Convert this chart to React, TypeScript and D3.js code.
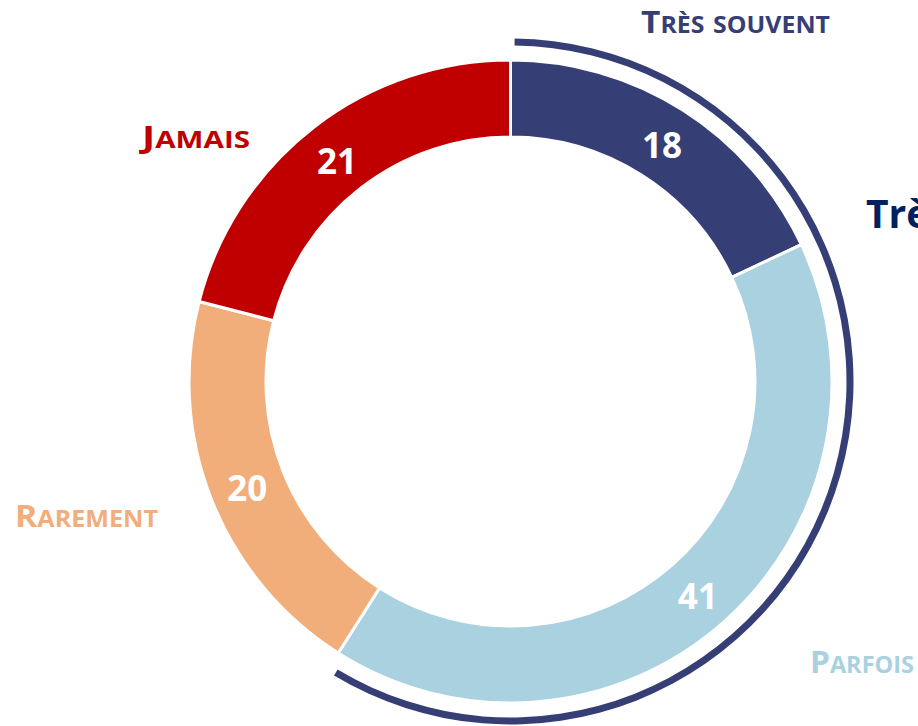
import React, {useEffect} from "react"
import * as d3 from "d3"

// chart data
const categories = ["Très souvent", "Parfois", "Rarement", "Jamais"]
const values = [18, 41, 20, 21]
const colors = ["#363E76", "#A9D1E0", "#F2AE7A", "#C00000"]

// bracket groups the first two categories
const bracketCategories = ["Très souvent", "Parfois"]
const bracketLabel = "Très"

const width = 918
const height = 726
const cx = 510.5
const cy = 381.5
const innerR = 244.5
const outerR = 321.5

// hand-placed category labels (left x, baseline, width)
const labelPlacement: {[k: string]: [number, number, number]} = {
    "Très souvent": [641, 33, 189],
    "Parfois": [810, 673, 104],
    "Rarement": [15, 527, 143],
    "Jamais": [142, 148, 108],
}

// render small caps: capitals big, lowercase as smaller capitals
const smallCaps = (label: string, big: number, small: number) => {
    const runs: {text: string, size: number}[] = []
    for (const ch of label) {
        const isUpper = ch !== ch.toLowerCase()
        const size = isUpper || ch === " " ? big : small
        const last = runs[runs.length - 1]
        if (last && last.size === size) last.text += ch.toUpperCase()
        else runs.push({text: ch.toUpperCase(), size})
    }
    return runs.map((r, i) => <tspan key={i} fontSize={r.size}>{r.text}</tspan>)
}

const App = () => {

    useEffect(() => {
        document.body.style.margin = "0"
    }, [])

    const pie = d3.pie<number>().sort(null).value(d => d)
    const arcs = pie(values)

    const arc = d3.arc<d3.PieArcDatum<number>>()
        .innerRadius(innerR)
        .outerRadius(outerR)

    const labelArc = d3.arc<d3.PieArcDatum<number>>()
        .innerRadius(283)
        .outerRadius(283)

    const grouped = arcs.filter((_, i) => bracketCategories.includes(categories[i]))
    const bracket = d3.arc()({
        innerRadius: 336,
        outerRadius: 343,
        startAngle: d3.min(grouped, d => d.startAngle)! + 0.012,
        endAngle: d3.max(grouped, d => d.endAngle)! - 0.025,
    })

    const font = "'Open Sans', 'DejaVu Sans', sans-serif"

    return (
        <svg width={width} height={height} viewBox={`0 0 ${width} ${height}`}
             style={{display: "block"}} fontFamily={font} fontWeight="bold">
            <rect width={width} height={height} fill="#ffffff"/>
            <g transform={`translate(${cx},${cy})`}>
                {arcs.map((a, i) => (
                    <path key={categories[i]} d={arc(a)!} fill={colors[i]}
                          stroke="#ffffff" strokeWidth={3}/>
                ))}
                <path d={bracket!} fill={colors[0]}/>
                {arcs.map((a, i) => {
                    const [x, y] = labelArc.centroid(a)
                    return (
                        <text key={categories[i]} x={x} y={y + 3} dy="0.36em"
                              textAnchor="middle" fontSize={35} fill="#ffffff">
                            {values[i]}
                        </text>
                    )
                })}
            </g>
            {categories.map((c, i) => {
                const [x, y, w] = labelPlacement[c]
                return (
                    <text key={c} x={x} y={y} fill={colors[i]} textLength={w}
                          lengthAdjust="spacingAndGlyphs">
                        {smallCaps(c, 31, 23)}
                    </text>
                )
            })}
            <text x={866} y={228} fontSize={39} fill="#002060">{bracketLabel}</text>
        </svg>
    )
}

export default App
